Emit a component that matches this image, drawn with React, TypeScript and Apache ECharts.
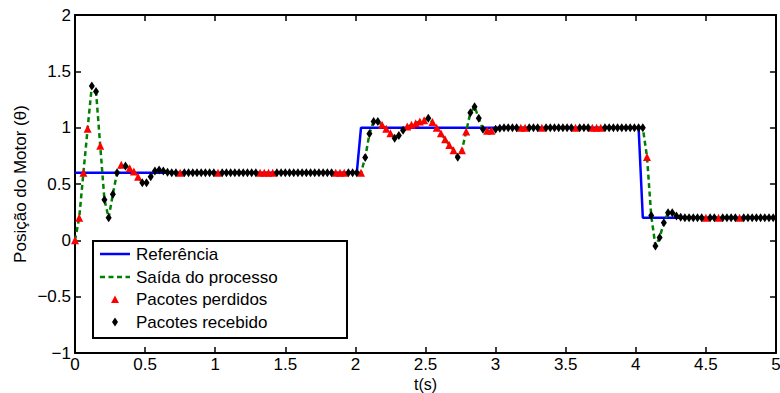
import React, { useEffect, useRef } from "react";
import * as echarts from "echarts";

// sampling period of the process (s)
const TS = 0.03;

// reference signal (step changes)
const REF_T = [0, 2.01, 2.04, 4.02, 4.05, 4.98];
const REF_V = [0.6, 0.6, 1, 1, 0.2, 0.2];

// process output, one value per sample k = 0..166
const OUTPUT = [
  0, 0.2, 0.6, 0.99, 1.37, 1.32, 0.84, 0.36, 0.2, 0.41,
  0.6, 0.67, 0.66, 0.64, 0.61, 0.565, 0.51, 0.51, 0.565, 0.615,
  0.625, 0.615, 0.605, 0.6, 0.6, 0.6, 0.6, 0.6, 0.6, 0.6,
  0.6, 0.6, 0.6, 0.6, 0.6, 0.6, 0.6, 0.6, 0.6, 0.6,
  0.6, 0.6, 0.6, 0.6, 0.6, 0.6, 0.6, 0.6, 0.6, 0.6,
  0.6, 0.6, 0.6, 0.6, 0.6, 0.6, 0.6, 0.6, 0.6, 0.6,
  0.6, 0.6, 0.6, 0.6, 0.6, 0.6, 0.6, 0.6, 0.6, 0.735,
  0.945, 1.055, 1.055, 1.025, 0.99, 0.95, 0.905, 0.93, 0.977, 1.01,
  1.025, 1.04, 1.055, 1.065, 1.083, 1.05, 1.0, 0.95, 0.897, 0.846,
  0.8, 0.737, 0.8, 0.965, 1.133, 1.186, 1.083, 0.985, 0.973, 0.973,
  0.985, 0.995, 1, 1, 1, 1, 1, 1, 1, 1,
  1, 1, 1, 1, 1, 1, 1, 1, 1, 1,
  1, 1, 1, 1, 1, 1, 1, 1, 1, 1,
  1, 1, 1, 1, 1, 1, 0.74, 0.22, -0.05, 0.025,
  0.157, 0.245, 0.245, 0.216, 0.205, 0.2, 0.2, 0.2, 0.2, 0.2,
  0.2, 0.2, 0.2, 0.2, 0.2, 0.2, 0.2, 0.2, 0.2, 0.2,
  0.2, 0.2, 0.2, 0.2, 0.2, 0.2, 0.2,
];

// indices of samples whose packets were lost
const LOST = [
  0, 1, 2, 3, 6, 11, 13, 14, 15, 25, 34, 44, 45, 46, 47, 62, 63, 64, 68,
  73, 74, 75, 79, 80, 81, 82, 83, 85, 86, 87, 88, 89, 90, 92, 93, 98, 99,
  106, 107, 111, 119, 123, 124, 125, 136, 150, 153, 158,
];

const SERIES_NAMES = ["Referência", "Saída do processo", "Pacotes perdidos", "Pacotes recebido"];

const X_TICKS = [0, 0.5, 1, 1.5, 2, 2.5, 3, 3.5, 4, 4.5, 5];
const Y_TICKS = [-1, -0.5, 0, 0.5, 1, 1.5, 2];

const FONT = "'Liberation Sans', Arial, Helvetica, sans-serif";
const BLUE = "#0000ff";
const GREEN = "#008000";
const RED = "#ff0000";
const DASH = [5, 3.5];

export default function App() {
  const ref = useRef<HTMLDivElement>(null);

  useEffect(() => {
    if (!ref.current) return;
    const chart = echarts.init(ref.current, undefined, { renderer: "svg" });

    const lostSet = new Set(LOST);
    const outData = OUTPUT.map((v, i) => [+(i * TS).toFixed(3), v]);
    const lostData = outData.filter((_, i) => lostSet.has(i));
    const recvData = outData.filter((_, i) => !lostSet.has(i));
    const refData = REF_T.map((t, i) => [t, REF_V[i]]);

    const fmt = (v: number) => (v < 0 ? "\u2212" + String(Math.abs(v)) : String(v));
    const axisLine = { show: true, onZero: false, lineStyle: { color: "#000", width: 2 } };
    const axisTick = { show: true, inside: true, length: 6, lineStyle: { color: "#000", width: 1.5 } };

    const xBase = {
      type: "value" as const,
      min: X_TICKS[0],
      max: X_TICKS[X_TICKS.length - 1],
      interval: 0.5,
      splitLine: { show: false },
      axisLine,
      axisTick,
    };
    const yBase = {
      type: "value" as const,
      min: Y_TICKS[0],
      max: Y_TICKS[Y_TICKS.length - 1],
      interval: 0.5,
      splitLine: { show: false },
      axisLine,
      axisTick,
    };

    // legend (MATLAB-style box) drawn with graphic elements
    const LX = 93, LY = 241, LW = 254, LH = 97;
    const rowY = [254, 277, 299.5, 322];
    const iconX0 = 100, iconX1 = 130, iconC = 115, textX = 136;
    const legendText = SERIES_NAMES.map((name, i) => ({
      type: "text",
      z: 101,
      style: {
        x: textX,
        y: rowY[i],
        text: name,
        fill: "#000",
        font: `17px ${FONT}`,
        verticalAlign: "middle",
        align: "left",
      },
    }));

    chart.setOption({
      animation: false,
      backgroundColor: "#fff",
      textStyle: { fontFamily: FONT },
      grid: { left: 75, right: 4, top: 15, bottom: 40, outerBoundsMode: "none", containLabel: false },
      xAxis: [
        {
          ...xBase,
          position: "bottom",
          name: "t(s)",
          nameLocation: "middle",
          nameGap: 24,
          nameMoveOverlap: false,
          nameTextStyle: { color: "#000", fontSize: 16, lineHeight: 14, fontFamily: FONT },
          axisLabel: { color: "#000", fontSize: 17, lineHeight: 14, margin: 4, fontFamily: FONT, formatter: fmt },
        },
        { ...xBase, position: "top", axisLabel: { show: false } },
      ],
      yAxis: [
        {
          ...yBase,
          position: "left",
          name: "Posição do Motor (θ)",
          nameLocation: "middle",
          nameGap: 46,
          nameMoveOverlap: false,
          nameTextStyle: { color: "#000", fontSize: 17, fontFamily: FONT },
          axisLabel: { color: "#000", fontSize: 17, margin: 4, fontFamily: FONT, formatter: fmt },
        },
        { ...yBase, position: "right", axisLabel: { show: false } },
      ],
      graphic: [
        {
          type: "rect",
          z: 100,
          shape: { x: LX, y: LY, width: LW, height: LH },
          style: { fill: "#fff", stroke: "#000", lineWidth: 2 },
        },
        {
          type: "line",
          z: 101,
          shape: { x1: iconX0, y1: rowY[0], x2: iconX1, y2: rowY[0] },
          style: { stroke: BLUE, lineWidth: 2.5 },
        },
        {
          type: "line",
          z: 101,
          shape: { x1: iconX0, y1: rowY[1], x2: iconX1, y2: rowY[1] },
          style: { stroke: GREEN, lineWidth: 2.5, lineDash: DASH },
        },
        {
          type: "polygon",
          z: 101,
          shape: {
            points: [
              [iconC - 4, rowY[2] + 3.5],
              [iconC + 4, rowY[2] + 3.5],
              [iconC, rowY[2] - 4],
            ],
          },
          style: { fill: RED },
        },
        {
          type: "polygon",
          z: 101,
          shape: {
            points: [
              [iconC, rowY[3] - 4.5],
              [iconC + 3, rowY[3]],
              [iconC, rowY[3] + 4.5],
              [iconC - 3, rowY[3]],
            ],
          },
          style: { fill: "#000" },
        },
        ...legendText,
      ],
      series: [
        {
          name: SERIES_NAMES[0],
          type: "line",
          data: refData,
          symbol: "none",
          showSymbol: false,
          lineStyle: { color: BLUE, width: 2.5 },
          itemStyle: { color: BLUE },
          z: 2,
        },
        {
          name: SERIES_NAMES[1],
          type: "line",
          data: outData,
          symbol: "none",
          showSymbol: false,
          lineStyle: { color: GREEN, width: 2.5, type: DASH },
          itemStyle: { color: GREEN },
          z: 3,
        },
        {
          name: SERIES_NAMES[2],
          type: "scatter",
          data: lostData,
          symbol: "triangle",
          symbolSize: [8, 8],
          itemStyle: { color: RED, opacity: 1 },
          z: 4,
        },
        {
          name: SERIES_NAMES[3],
          type: "scatter",
          data: recvData,
          symbol: "diamond",
          symbolSize: [6, 9],
          itemStyle: { color: "#000", opacity: 1 },
          z: 5,
        },
      ],
    });

    return () => chart.dispose();
  }, []);

  return (
    <div
      ref={ref}
      style={{ position: "absolute", left: 0, top: 0, width: 780, height: 393 }}
    />
  );
}
